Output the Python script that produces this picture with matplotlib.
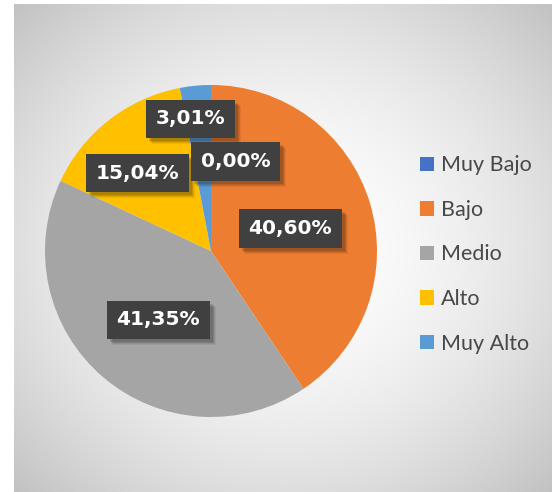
import numpy as np
import matplotlib
matplotlib.use("Agg")
import matplotlib.pyplot as plt
from matplotlib.patches import Patch, Rectangle
from matplotlib.transforms import IdentityTransform

# data
categories = ["Muy Bajo", "Bajo", "Medio", "Alto", "Muy Alto"]
values = [0.00, 40.60, 41.35, 15.04, 3.01]
labels = ["0,00%", "40,60%", "41,35%", "15,04%", "3,01%"]
colors = ["#4472C4", "#ED7D31", "#A5A5A5", "#FFC000", "#5B9BD5"]

# label placement: fraction of radius along the slice middle, plus a small nudge
label_r = [0.54, 0.50, 0.52, 0.62, 0.80]
label_nudge = [(0.15, 0.0), (0.0, -0.01), (0.02, -0.02), (-0.06, -0.02), (-0.05, 0.0)]

W, H = 552, 492
fig = plt.figure(figsize=(W / 100, H / 100), dpi=100)
fig.patch.set_facecolor("white")

# gradient background of the chart area
bg = fig.add_axes([14 / W, 0, 1 - 14 / W, 1 - 4 / H])
bg.set_axis_off()
xx, yy = np.meshgrid(np.linspace(-1, 1, 300), np.linspace(-1, 1, 300))
d2 = (xx ** 2 + yy ** 2) / 2
shade = 1.0 - 0.24 * d2 ** 0.9
bg.imshow(np.dstack([shade] * 3), aspect="auto", extent=(0, 1, 0, 1), interpolation="bilinear")
bg.set_xlim(0, 1)
bg.set_ylim(0, 1)

# pie
cx, cy, r = 211, 251, 166
ax = fig.add_axes([(cx - r) / W, (H - cy - r) / H, 2 * r / W, 2 * r / H])
wedges, _ = ax.pie(values, colors=colors, startangle=90, counterclock=False,
                   radius=1, wedgeprops=dict(linewidth=0))
ax.set_xlim(-1, 1)
ax.set_ylim(-1, 1)
ax.set_axis_off()

plt.rcParams["hatch.color"] = "#545454"
plt.rcParams["hatch.linewidth"] = 1.3
texts = []
for w, lab, rf, (nx, ny) in zip(wedges, labels, label_r, label_nudge):
    mid = np.deg2rad((w.theta1 + w.theta2) / 2)
    x = rf * np.cos(mid) + nx
    y = rf * np.sin(mid) + ny
    t = ax.text(x, y, lab, ha="center", va="center", fontsize=14.5,
                fontweight="bold", family="DejaVu Sans", color="white", zorder=4,
                bbox=dict(boxstyle="square,pad=0.48", fc="#404040", ec="#404040",
                          lw=0, hatch=".."))
    texts.append(t)

# soft drop shadows behind the label boxes (drawn inside the pie axes)
fig.canvas.draw()
for t in texts:
    bb = t.get_bbox_patch().get_window_extent()
    for k, a in [(6, 0.06), (5, 0.08), (4, 0.1), (3, 0.12)]:
        ax.add_artist(Rectangle((bb.x0 + k, bb.y0 - k), bb.width, bb.height,
                                transform=IdentityTransform(), fc=(0, 0, 0, a),
                                lw=0, zorder=3, clip_on=False))

handles = [Patch(facecolor=c, edgecolor="none") for c in colors]
leg = fig.legend(handles, categories, loc="upper left",
                 bbox_to_anchor=(401 / W, 1 - 136 / H), frameon=False,
                 prop=dict(family="Lato", size=15.5), labelcolor="#484848",
                 handlelength=0.65, handleheight=0.65, handletextpad=0.3,
                 labelspacing=1.14)

fig.savefig("out.png", dpi=100)
